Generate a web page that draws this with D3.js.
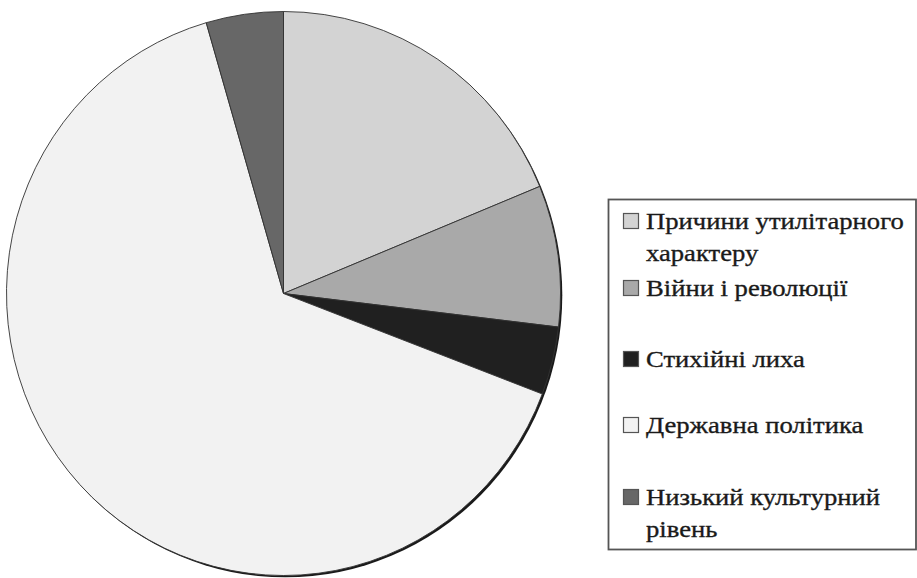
<!DOCTYPE html>
<html><head><meta charset="utf-8">
<script src="https://cdn.jsdelivr.net/npm/d3@7"></script>
<style>html,body{margin:0;padding:0;background:#fff;}svg{display:block;}</style>
</head><body>
<script>
const categories = ["Причини утилітарного характеру", "Війни і революції", "Стихійні лиха", "Державна політика", "Низький культурний рівень"];
const values = [18.8, 8.1, 3.9, 64.7, 4.5];
const legendLines = [["Причини утилітарного", "характеру"], ["Війни і революції"], ["Стихійні лиха"], ["Державна політика"], ["Низький культурний", "рівень"]];
const colors = ["#d3d3d3", "#a9a9a9", "#202020", "#f2f2f2", "#676767"];

const W = 917, H = 578;
const svg = d3.select("body").append("svg").attr("width", W).attr("height", H);
const cx = 283.5, cy = 293.5, rx = 277, ry = 282;

const pie = d3.pie().sort(null).value(d => d);
const arcs = pie(values);
const arc = d3.arc().innerRadius(0).outerRadius(rx);

const g = svg.append("g").attr("transform", `translate(${cx},${cy}) scale(1,${ry/rx})`);
// shadow
g.append("circle").attr("cx", 1.8).attr("cy", 1.8).attr("r", rx).attr("fill", "#1a1a1a");
g.selectAll("path.slice").data(arcs).join("path")
  .attr("class", "slice")
  .attr("d", arc)
  .attr("fill", (d, i) => colors[i])
  .attr("stroke", "#333")
  .attr("stroke-width", 0.9)
  .attr("stroke-linejoin", "round");

// legend
const lg = svg.append("g");
lg.append("rect").attr("x", 608.5).attr("y", 199.5).attr("width", 307.5).attr("height", 350)
  .attr("fill", "#fff").attr("stroke", "#555").attr("stroke-width", 1.8);
const baselines = [229, 296, 367, 433, 505];
const lineGap = 32;
const tx = 646, sx = 1.11;
const item = lg.selectAll("g.item").data(categories).join("g").attr("class", "item");
item.append("rect")
  .attr("x", 623.5).attr("y", (d, i) => baselines[i] - 15.5)
  .attr("width", 15).attr("height", 15)
  .attr("fill", (d, i) => colors[i]).attr("stroke", "#555").attr("stroke-width", 1.2);
item.each(function(d, i) {
  const t = d3.select(this).append("text")
    .attr("transform", `translate(${tx},0) scale(${sx},1)`)
    .attr("x", 0).attr("y", baselines[i])
    .style("font-family", "\"Liberation Serif\", \"Times New Roman\", serif")
    .style("font-size", "24px")
    .attr("fill", "#1a1a1a").attr("stroke", "#1a1a1a").attr("stroke-width", 0.35);
  legendLines[i].forEach((line, j) => {
    t.append("tspan").attr("x", 0).attr("y", baselines[i] + j * lineGap).text(line);
  });
});
</script>
</body></html>
